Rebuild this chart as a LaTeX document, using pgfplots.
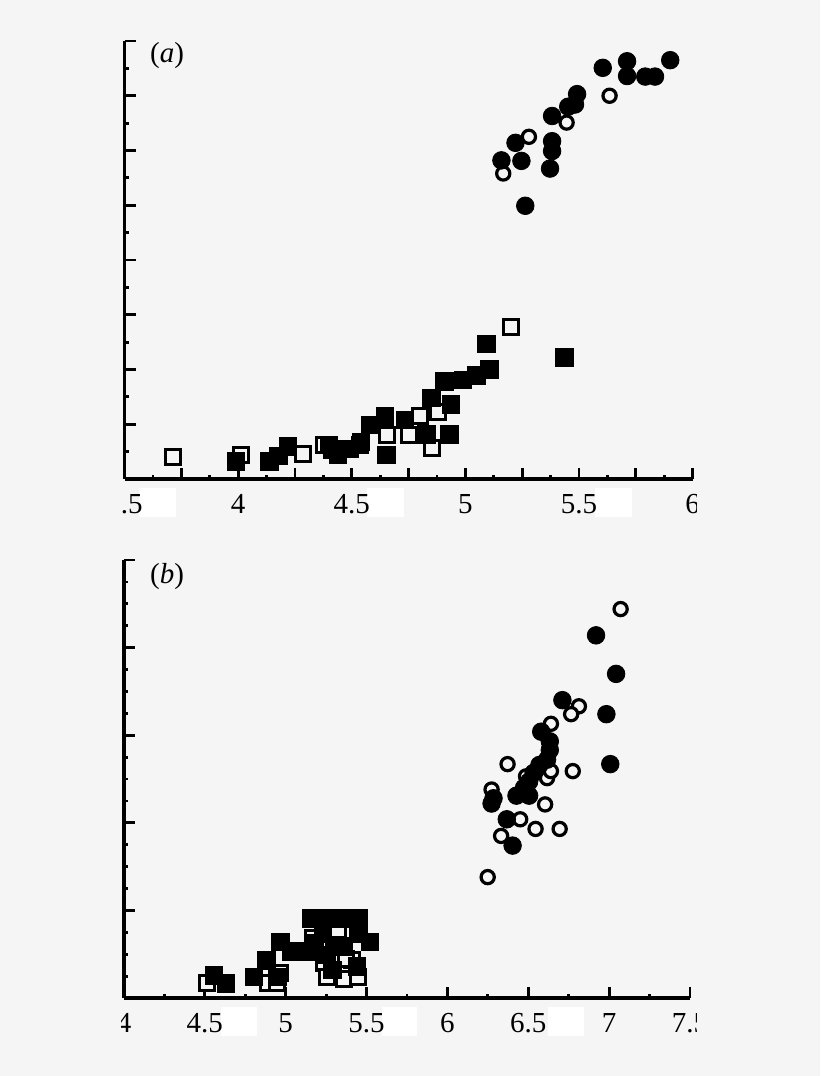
\documentclass[border=0pt]{standalone}
\usepackage{fontspec}
\setmainfont{Liberation Serif}
\usepackage{pgfplots}
\pgfplotsset{compat=1.18}
\definecolor{bg}{RGB}{245,245,245}

\pgfplotsset{
  panel/.style={
    scale only axis,
    anchor=south west,
    axis x line*=bottom,
    axis y line*=left,
    axis line style={line width=1.6pt, black},
    tick align=inside,
    tick style={line width=1.4pt, black},
    major tick length=5.5pt,
    minor tick length=2.2pt,
    yticklabel={},
    /pgf/number format/assume math mode=true,
    xticklabel style={font=\fontsize{14.5}{16}\selectfont, yshift=-4.3pt},
    clip=false,
  },
  fsq/.style={only marks, mark=square*, mark size=4.4pt, mark options={fill=black, draw=black, line width=0.4pt}},
  osq/.style={only marks, mark=square*, mark size=3.75pt, mark options={fill=bg, draw=black, line width=1.5pt}},
  fci/.style={only marks, mark=*, mark size=4.4pt, mark options={fill=black, draw=black, line width=0.4pt}},
  oci/.style={only marks, mark=*, mark size=3.3pt, mark options={fill=bg, draw=black, line width=1.6pt}},
}

\begin{document}
\begin{tikzpicture}
\fill[bg] (0,0) rectangle (410pt,538pt);
\useasboundingbox (0,0) rectangle (410pt,538pt);
% white patches in the tick-label rows
\fill[white] (69.5pt,279.5pt) rectangle (88pt,294pt);
\fill[white] (183.5pt,279.5pt) rectangle (202pt,294pt);
\fill[white] (297.5pt,279.5pt) rectangle (316pt,294pt);
\fill[white] (110.5pt,20pt) rectangle (128.5pt,34.4pt);
\fill[white] (190.8pt,20pt) rectangle (208.7pt,34.4pt);
\fill[white] (273.8pt,20pt) rectangle (292pt,34.4pt);
\begin{scope}
\clip (60.7pt,0) rectangle (348.2pt,538pt);
% ---------------- panel (a)
\begin{axis}[panel,
  at={(62.25pt,298.5pt)}, width=284pt, height=219pt,
  xmin=3.5, xmax=6, ymin=0, ymax=8,
  xtick={3.5,3.75,...,6.01},
  xticklabels={3.5,,4,,4.5,,5,,5.5,,6},
  minor x tick num=1,
  ytick={0,1,...,8}, minor y tick num=1,
]
\addplot[osq] table {
3.712 0.41
4.012 0.44
4.285 0.45
4.376 0.62
4.537 0.62
4.654 0.81
4.754 0.81
4.80 1.15
4.882 1.23
4.852 0.56
5.203 2.77
};
\addplot[fsq] table {
3.99 0.32
4.138 0.32
4.178 0.42
4.219 0.60
4.40 0.62
4.413 0.54
4.44 0.44
4.49 0.55
4.54 0.68
4.58 0.99
4.647 1.14
4.654 0.44
4.735 1.08
4.83 0.81
4.852 1.48
4.907 1.78
4.93 0.81
4.937 1.36
4.99 1.81
5.05 1.89
5.106 2.00
5.092 2.47
5.436 2.22
};
\addplot[oci] table {
5.635 7.00
5.446 6.51
5.280 6.25
5.167 5.58
};
\addplot[fci] table {
5.605 7.51
5.712 7.63
5.712 7.36
5.792 7.35
5.835 7.35
5.902 7.65
5.492 7.03
5.483 6.84
5.453 6.80
5.382 6.63
5.382 6.17
5.382 5.99
5.373 5.67
5.221 6.14
5.247 5.81
5.159 5.82
5.264 4.99
};
\end{axis}
% ---------------- panel (b)
\begin{axis}[panel,
  at={(62pt,39pt)}, width=283pt, height=219pt,
  xmin=4, xmax=7.5, ymin=0, ymax=5,
  xtick={4,4.5,...,7.51},
  minor x tick num=1,
  ytick={0,1,...,5}, minor y tick num=3,
]
\addplot[osq] table {
4.511 0.17
4.892 0.17
4.948 0.17
4.964 0.29
5.325 0.77
5.17 0.69
5.407 0.43
5.238 0.40
5.253 0.24
5.362 0.22
5.448 0.24
5.375 0.45
};
\addplot[fsq] table {
4.556 0.26
4.63 0.17
4.803 0.24
4.88 0.43
4.968 0.64
5.036 0.53
4.948 0.24
5.16 0.91
5.273 0.91
5.36 0.91
5.448 0.91
5.52 0.64
5.18 0.62
5.15 0.53
5.253 0.49
5.355 0.59
5.29 0.32
5.44 0.36
5.23 0.74
5.448 0.74
5.30 0.60
};
\addplot[oci] table {
7.071 4.44
6.249 1.38
6.372 2.67
6.64 3.13
6.813 3.33
6.765 3.24
6.775 2.59
6.604 2.21
6.694 1.93
6.545 1.93
6.45 2.04
6.332 1.85
6.273 2.38
6.486 2.53
6.616 2.51
6.64 2.59
};
\addplot[fci] table {
6.919 4.14
7.043 3.70
6.711 3.40
6.983 3.24
7.007 2.67
6.58 3.04
6.633 2.93
6.633 2.83
6.616 2.72
6.569 2.66
6.533 2.57
6.505 2.47
6.474 2.40
6.427 2.31
6.505 2.31
6.285 2.28
6.273 2.22
6.367 2.04
6.403 1.74
};
\end{axis}
\end{scope}
% panel tags
\node[font=\fontsize{14.5}{16}\selectfont] at (83.5pt,510pt) {(\textit{a})};
\node[font=\fontsize{14.5}{16}\selectfont] at (83.5pt,249.5pt) {(\textit{b})};
\end{tikzpicture}
\end{document}
